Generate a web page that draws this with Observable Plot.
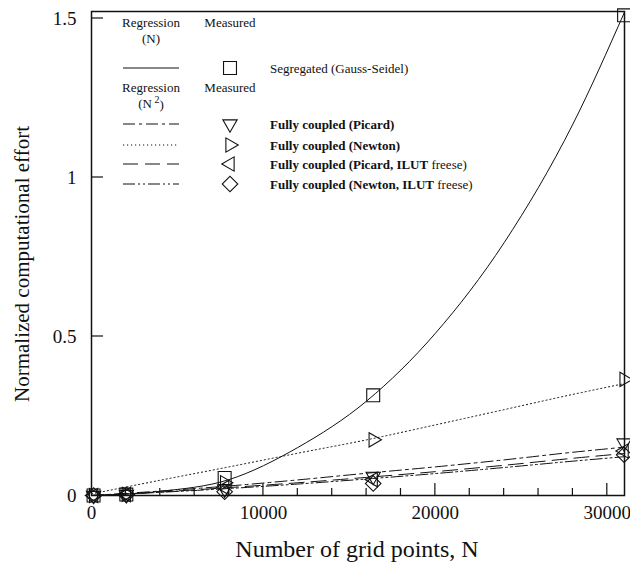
<!DOCTYPE html>
<html><head><meta charset="utf-8">
<script src="https://cdn.jsdelivr.net/npm/d3@7"></script>
<script src="https://cdn.jsdelivr.net/npm/@observablehq/plot@0.6"></script>
<style>body{margin:0;background:#fff} svg{display:block}</style>
</head><body><div id="chart"></div>
<script>
// Measured grid sizes and normalized effort
const gridPoints = [121, 2025, 7744, 16384, 30976];
const measSegregated = [0, 0.003, 0.055, 0.315, 1.51];
const measPicard = [0, 0.003, 0.02, 0.06, 0.165];
const measNewton = [0, 0.004, 0.04, 0.175, 0.365];
const measPicardILUT = [0, 0.003, 0.025, 0.05, 0.14];
const measNewtonILUT = [0, 0.002, 0.012, 0.038, 0.128];

// Regression curves
const regN = [0, 4000, 8000, 12000, 16000, 20000, 24000, 28000, 31000];
const regSegregated = [0, 0.013, 0.05, 0.151, 0.297, 0.51, 0.795, 1.168, 1.52];
const regPicard = [0, 0.014, 0.03, 0.049, 0.07, 0.09, 0.112, 0.136, 0.152];
const regNewton = [0.005, 0.048, 0.09, 0.133, 0.175, 0.222, 0.27, 0.318, 0.352];
const regPicardILUT = [0, 0.011, 0.025, 0.04, 0.057, 0.075, 0.095, 0.117, 0.132];
const regNewtonILUT = [0, 0.01, 0.022, 0.036, 0.052, 0.069, 0.088, 0.108, 0.122];

const xTicks = [0, 10000, 20000, 30000];
const xMinorTicks = [2000, 4000, 6000, 8000, 12000, 14000, 16000, 18000, 22000, 24000, 26000, 28000];
const yTicks = [0, 0.5, 1, 1.5];

const xTitle = "Number of grid points, N";
const yTitle = "Normalized computational effort";

const series = [
  {key: "seg", label: "Segregated (Gauss-Seidel)", bold: false, extra: "", symbol: "square", rotate: 0, r: 7.3, dash: null},
  {key: "picard", label: "Fully coupled (Picard)", bold: true, extra: "", symbol: "triangle", rotate: 180, r: 5.3, dash: "12,4,3,4"},
  {key: "newton", label: "Fully coupled (Newton)", bold: true, extra: "", symbol: "triangle", rotate: 90, r: 5.3, dash: "1.2,2.8"},
  {key: "picardILUT", label: "Fully coupled (Picard, ILUT", bold: true, extra: " freese)", symbol: "triangle", rotate: -90, r: 5.3, dash: "15,7"},
  {key: "newtonILUT", label: "Fully coupled (Newton, ILUT", bold: true, extra: " freese)", symbol: "square", rotate: 45, r: 6.2, dash: "12,3,2,3,2,3"}
];

const meas = gridPoints.map((N, i) => ({N, seg: measSegregated[i], picard: measPicard[i], newton: measNewton[i], picardILUT: measPicardILUT[i], newtonILUT: measNewtonILUT[i]}));
const reg = regN.map((N, i) => ({N, seg: regSegregated[i], picard: regPicard[i], newton: regNewton[i], picardILUT: regPicardILUT[i], newtonILUT: regNewtonILUT[i]}));

const ink = "#111";
const serif = "'Liberation Serif', 'Times New Roman', serif";
const marks = [
  Plot.axisX(xTicks, {tickSize: 0, tickPadding: 10, tickFormat: d => String(d), label: null}),
  Plot.axisY(yTicks, {tickSize: 0, tickPadding: 15, tickFormat: d => String(d), label: null}),
];
for (const s of series) {
  marks.push(Plot.line(reg, {x: "N", y: s.key, curve: "monotone-x", stroke: ink, strokeWidth: 1, strokeDasharray: s.dash}));
}
for (const s of series) {
  marks.push(Plot.dot(meas, {x: "N", y: s.key, symbol: s.symbol, rotate: s.rotate, r: s.r, stroke: ink, fill: "none", strokeWidth: 1.1}));
}
marks.push(Plot.frame({stroke: ink, strokeWidth: 1.5}));

const chart = Plot.plot({
  width: 630, height: 565,
  marginLeft: 91, marginRight: 6, marginTop: 11, marginBottom: 70,
  x: {domain: [0, 31000]},
  y: {domain: [0, 1.522]},
  style: {fontSize: "19px", background: "white", color: ink},
  marks
});
document.getElementById("chart").appendChild(chart);

const svg = d3.select(chart);
const sx = chart.scale("x"), sy = chart.scale("y");
const y0 = sy.apply(0), x0 = sx.apply(0);
const g = svg.append("g").attr("stroke", ink).attr("stroke-width", 1.2);
for (const t of xTicks.slice(1)) g.append("line").attr("x1", sx.apply(t)).attr("x2", sx.apply(t)).attr("y1", y0).attr("y2", y0 - 12);
for (const t of xMinorTicks) g.append("line").attr("x1", sx.apply(t)).attr("x2", sx.apply(t)).attr("y1", y0).attr("y2", y0 - 7);
for (const t of yTicks.slice(1)) g.append("line").attr("x1", x0).attr("x2", x0 + 12).attr("y1", sy.apply(t)).attr("y2", sy.apply(t));

// Axis titles
svg.append("text").attr("x", 357).attr("y", 557).attr("text-anchor", "middle").attr("font-size", 24).attr("fill", ink).text(xTitle);
svg.append("text").attr("transform", "translate(29,264) rotate(-90)").attr("text-anchor", "middle").attr("font-size", 21).attr("fill", ink).text(yTitle);

// Legend
const lg = svg.append("g").attr("font-size", 13).attr("fill", ink).attr("text-anchor", "start");
const colL = 151, colM = 230, textX = 270, lineX1 = 123, lineX2 = 179;
function header(y, sub) {
  lg.append("text").attr("x", colL).attr("y", y).attr("dy", "0.35em").attr("text-anchor", "middle").text("Regression");
  lg.append("text").attr("x", colM).attr("y", y).attr("dy", "0.35em").attr("text-anchor", "middle").text("Measured");
  const t = lg.append("text").attr("x", colL).attr("y", y + 16).attr("dy", "0.35em").attr("text-anchor", "middle");
  t.append("tspan").text("(N");
  if (sub) { t.append("tspan").attr("dy", "-0.45em").attr("font-size", 10).text(" 2"); t.append("tspan").attr("dy", "0.45em").text(")"); }
  else t.append("tspan").text(")");
}
header(22, false);
header(87, true);
const rowsY = [68, 124, 145, 164, 184];
series.forEach((s, i) => {
  const y = rowsY[i];
  lg.append("line").attr("x1", lineX1).attr("x2", lineX2).attr("y1", y).attr("y2", y).attr("stroke", ink).attr("stroke-width", 1).attr("stroke-dasharray", s.dash);
  const sym = s.symbol === "square" ? d3.symbolSquare : d3.symbolTriangle;
  lg.append("path").attr("d", d3.symbol(sym, Math.PI * s.r * s.r)()).attr("transform", `translate(${colM},${y}) rotate(${s.rotate})`).attr("fill", "none").attr("stroke", ink).attr("stroke-width", 1.1);
  const t = lg.append("text").attr("x", textX).attr("y", y).attr("dy", "0.35em").attr("text-anchor", "start");
  t.append("tspan").attr("font-weight", s.bold ? "bold" : "normal").text(s.label);
  if (s.extra) t.append("tspan").text(s.extra);
});

svg.selectAll("text").style("font-family", serif);
</script>
</body></html>
